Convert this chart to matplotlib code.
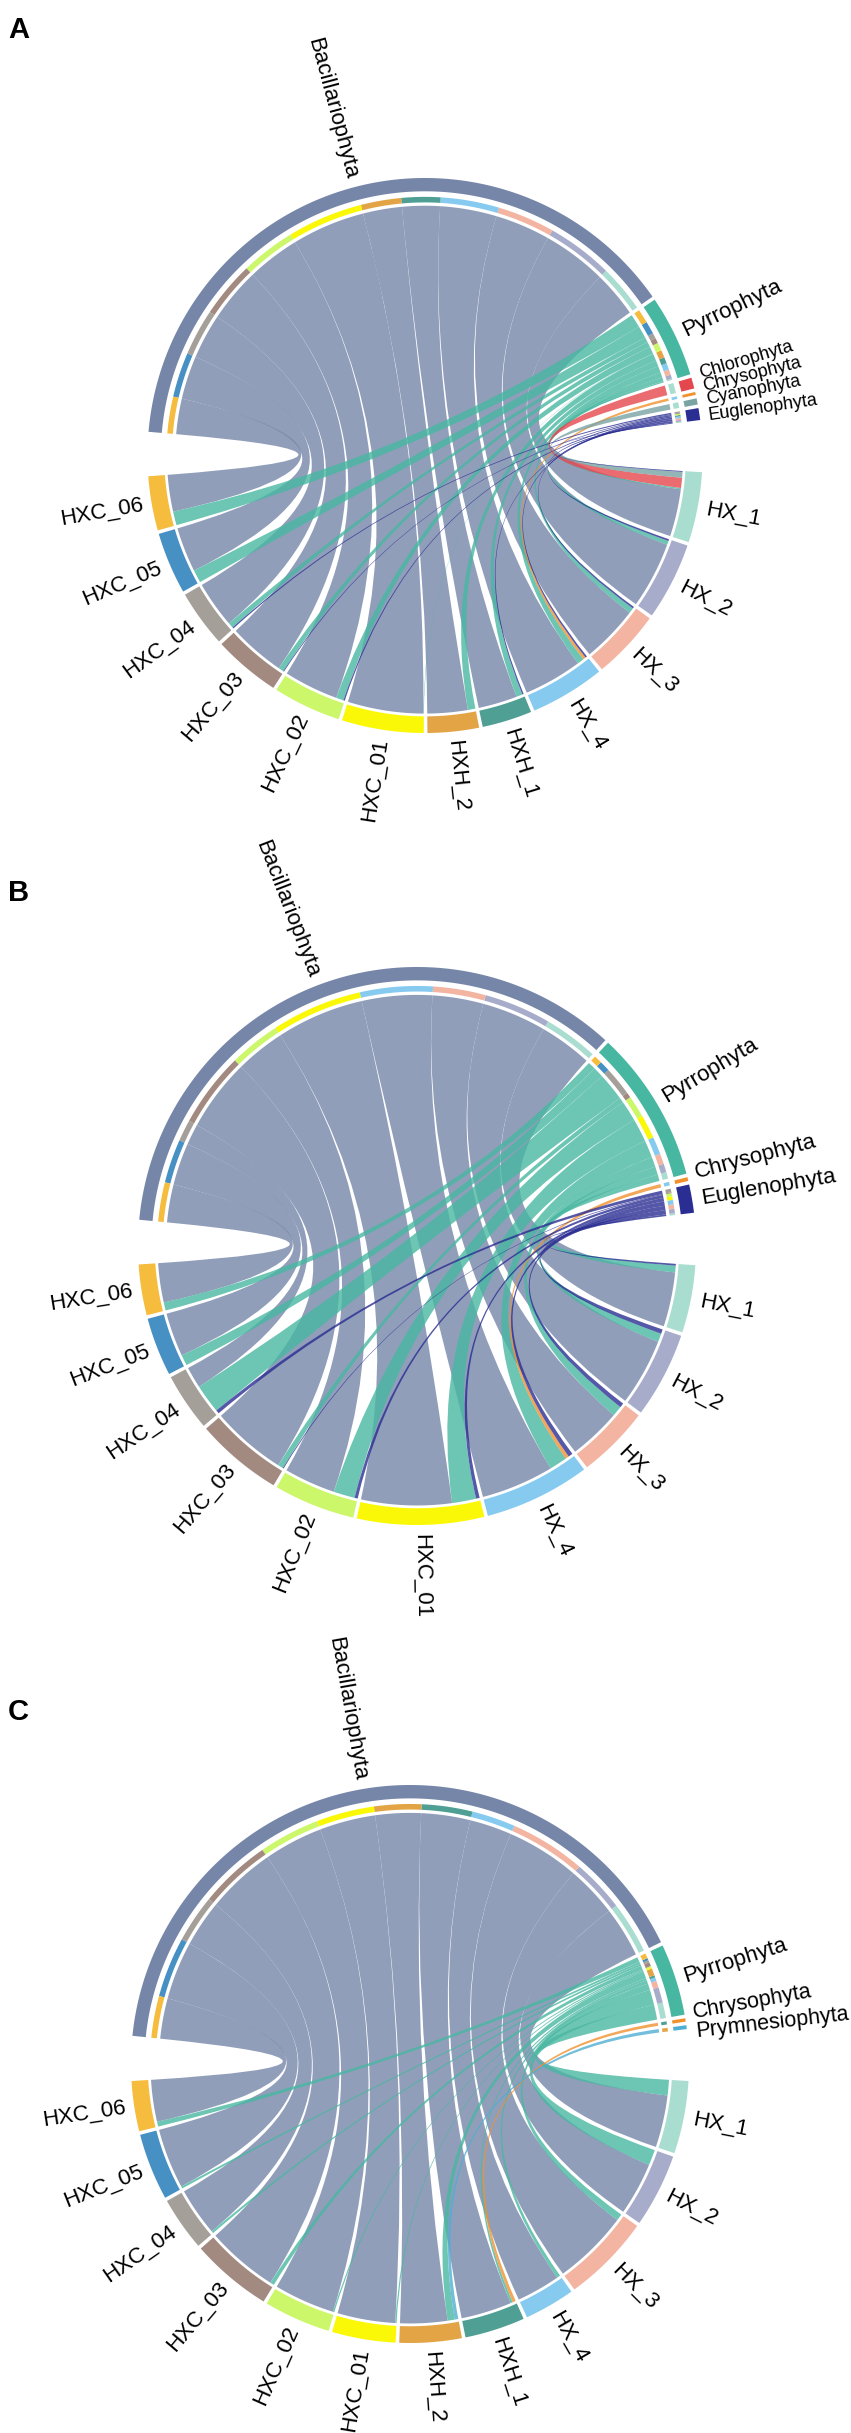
import numpy as np
import matplotlib
matplotlib.use('Agg')
import matplotlib.pyplot as plt
from matplotlib.path import Path
from matplotlib.patches import PathPatch, Polygon

plt.rcParams['font.family'] = ['Liberation Sans', 'DejaVu Sans']

### DATA (relative abundance)

# panel A
samples_a = ['HX_1', 'HX_2', 'HX_3', 'HX_4', 'HXH_1', 'HXH_2',
             'HXC_01', 'HXC_02', 'HXC_03', 'HXC_04', 'HXC_05', 'HXC_06']
phyla_a = ['Bacillariophyta', 'Pyrrophyta', 'Chlorophyta', 'Chrysophyta', 'Cyanophyta', 'Euglenophyta']
bac_a = [10.7, 15.0, 12.9, 13.2, 8.8, 9.1, 17.1, 12.3, 12.7, 10.5, 10.1, 8.3]
pyr_a = [0.3, 0.9, 1.2, 1.5, 1.4, 1.7, 0.1, 1.7, 1.2, 1.2, 2.9, 3.1]
chl_a = [2.3, 0, 0, 0, 0, 0, 0, 0, 0, 0, 0, 0]
chr_a = [0, 0, 0, 0.6, 0, 0, 0, 0, 0, 0, 0, 0]
cya_a = [1.3, 0, 0, 0, 0, 0, 0, 0, 0, 0, 0, 0]
eug_a = [0.2, 0.4, 0.4, 0.4, 0.3, 0, 0, 0.3, 0.2, 0.3, 0, 0]

# panel B
samples_b = ['HX_1', 'HX_2', 'HX_3', 'HX_4',
             'HXC_01', 'HXC_02', 'HXC_03', 'HXC_04', 'HXC_05', 'HXC_06']
phyla_b = ['Bacillariophyta', 'Pyrrophyta', 'Chrysophyta', 'Euglenophyta']
bac_b = [12.2, 15.0, 11.8, 16.3, 20.3, 11.5, 16.8, 4.8, 9.8, 8.8]
pyr_b = [1.5, 1.9, 2.3, 4.0, 5.4, 4.8, 1.2, 6.5, 2.4, 1.8]
chr_b = [0, 0, 0, 0.8, 0, 0, 0, 0, 0, 0]
eug_b = [0.4, 1.0, 1.0, 1.0, 0.8, 0.7, 0.2, 0.8, 0, 0]

# panel C
samples_c = samples_a
phyla_c = ['Bacillariophyta', 'Pyrrophyta', 'Chrysophyta', 'Prymnesiophyta']
bac_c = [11.7, 11.9, 17.0, 9.8, 11.4, 10.6, 13.0, 13.7, 16.1, 10.8, 13.5, 9.4]
pyr_c = [3.5, 3.5, 1.5, 0.8, 0.5, 1.6, 0.3, 0.3, 0.9, 0.5, 0.5, 1.1]
chr_c = [0, 0, 0, 0, 0.7, 0, 0, 0, 0, 0, 0, 0]
pry_c = [0, 0, 0, 0, 0, 0.8, 0, 0, 0, 0, 0, 0]

phylum_col = {'Bacillariophyta': '#7686A9', 'Pyrrophyta': '#48B7A1', 'Chlorophyta': '#E5474E',
              'Chrysophyta': '#F0912E', 'Cyanophyta': '#7AA3A4', 'Euglenophyta': '#2A2D92',
              'Prymnesiophyta': '#4FAED3'}
sample_col = {'HX_1': '#A9DDD0', 'HX_2': '#A8ACCB', 'HX_3': '#F3B4A2', 'HX_4': '#86CAF0',
              'HXH_1': '#4F9F94', 'HXH_2': '#E3A446', 'HXC_01': '#FAF806', 'HXC_02': '#CCF76B',
              'HXC_03': '#A38A80', 'HXC_04': '#A59F9A', 'HXC_05': '#4690C4', 'HXC_06': '#F5BC3D'}

# small label nudges (degrees) so crowded names stay readable, as in the original
nudge_a = {'Chlorophyta': 1.5, 'Chrysophyta': 1.0, 'Cyanophyta': 0.0, 'Euglenophyta': -0.5}
nudge_b = {'Chrysophyta': 0.8, 'Euglenophyta': -0.3}
nudge_c = {'Chrysophyta': 1.1, 'Prymnesiophyta': -1.1}


def pt(cx, cy, r, a):
    t = np.radians(a)
    return (cx + r*np.cos(t), cy - r*np.sin(t))

def arc(cx, cy, r, a1, a2):
    n = max(2, int(abs(a2-a1)*4)+2)
    t = np.radians(np.linspace(a1, a2, n))
    return np.column_stack([cx + r*np.cos(t), cy - r*np.sin(t)])

def band(ax, cx, cy, r1, r2, a1, a2, color):
    poly = np.vstack([arc(cx, cy, r2, a1, a2), arc(cx, cy, r1, a2, a1)])
    ax.add_patch(Polygon(poly, closed=True, facecolor=color, edgecolor='none'))

def ribbon(ax, cx, cy, rs, a_hi, a_lo, rt, b_hi, b_lo, color):
    p = arc(cx, cy, rs, a_hi, a_lo)
    q = arc(cx, cy, rt, b_hi, b_lo)
    verts = list(p); codes = [Path.MOVETO] + [Path.LINETO]*(len(p)-1)
    verts += [(cx, cy), pt(cx, cy, rt, b_hi)]; codes += [Path.CURVE3]*2
    verts += list(q[1:]); codes += [Path.LINETO]*(len(q)-1)
    verts += [(cx, cy), pt(cx, cy, rs, a_hi)]; codes += [Path.CURVE3]*2
    verts.append(verts[0]); codes.append(Path.CLOSEPOLY)
    ax.add_patch(PathPatch(Path(verts, codes), facecolor=color, edgecolor='none', alpha=0.8))

def label(ax, cx, cy, r, a, txt, fs):
    x, y = pt(cx, cy, r, a)
    if -90 <= a <= 90:
        ax.text(x, y, txt, rotation=a, ha='left', va='center', rotation_mode='anchor', fontsize=fs)
    else:
        ax.text(x, y, txt, rotation=a-180, ha='right', va='center', rotation_mode='anchor', fontsize=fs)

def chord(ax, cx, cy, R, phyla, samples, mat, start, gap_r, gap_l, pfs, nudge={}):
    M = np.array(mat, dtype=float)
    ptot = M.sum(1); stot = M.sum(0)
    n = len(phyla) + len(samples)
    small = 0.75
    k = (360 - gap_r - gap_l - small*(n-2)) / (ptot.sum() + stot.sum())
    psec = []; a = start
    for v in ptot:
        psec.append((a, a - v*k)); a -= v*k + small
    a = a + small - gap_r
    ssec = []
    for v in stot:
        ssec.append((a, a - v*k)); a -= v*k + small

    # link positions inside sectors
    pos_p = {}
    for i in range(len(phyla)):
        a = psec[i][0]
        for j in reversed(range(len(samples))):
            w = M[i, j]*k
            pos_p[(i, j)] = (a, a - w); a -= w
    pos_s = {}
    for j in range(len(samples)):
        a = ssec[j][0]
        for i in reversed(range(len(phyla))):
            w = M[i, j]*k
            pos_s[(i, j)] = (a, a - w); a -= w

    for i in range(len(phyla)):
        for j in range(len(samples)):
            if M[i, j] <= 0:
                continue
            ah, al = pos_p[(i, j)]; bh, bl = pos_s[(i, j)]
            ribbon(ax, cx, cy, 0.90*R, ah, al, 0.93*R, bh, bl, phylum_col[phyla[i]])

    for i, ph in enumerate(phyla):
        band(ax, cx, cy, 0.952*R, R, psec[i][0], psec[i][1], phylum_col[ph])
        for j in range(len(samples)):
            if M[i, j] > 0:
                ah, al = pos_p[(i, j)]
                band(ax, cx, cy, 0.912*R, 0.932*R, ah, al, sample_col[samples[j]])
        label(ax, cx, cy, R + 9, (psec[i][0] + psec[i][1])/2 + nudge.get(ph, 0), ph, pfs[i])
    for j, s in enumerate(samples):
        band(ax, cx, cy, 0.94*R, R, ssec[j][0], ssec[j][1], sample_col[s])
        label(ax, cx, cy, R + 9, (ssec[j][0] + ssec[j][1])/2, s, 16)


fig = plt.figure(figsize=(8.51, 24.33), dpi=100)
ax = fig.add_axes([0, 0, 1, 1])
ax.set_xlim(0, 851); ax.set_ylim(2433, 0)
ax.axis('off')

chord(ax, 425, 455.5, 277.5, phyla_a, samples_a,
      [bac_a, pyr_a, chl_a, chr_a, cya_a, eug_a], 175.1, 10.8, 9.2,
      [16, 16, 13, 13, 13, 13], nudge_a)
chord(ax, 417, 1246, 279, phyla_b, samples_b,
      [bac_b, pyr_b, chr_b, eug_b], 174.6, 10.8, 9.2, [16, 16, 16, 16], nudge_b)
chord(ax, 410, 2064, 279, phyla_c, samples_c,
      [bac_c, pyr_c, chr_c, pry_c], 174.2, 10.7, 9.3, [16, 16, 15.5, 15.5], nudge_c)

for lab, yy in zip(['A', 'B', 'C'], [16, 879, 1698]):
    ax.text(8, yy, lab, fontsize=21, fontweight='bold', ha='left', va='top')

fig.savefig('out.png', dpi=100)
